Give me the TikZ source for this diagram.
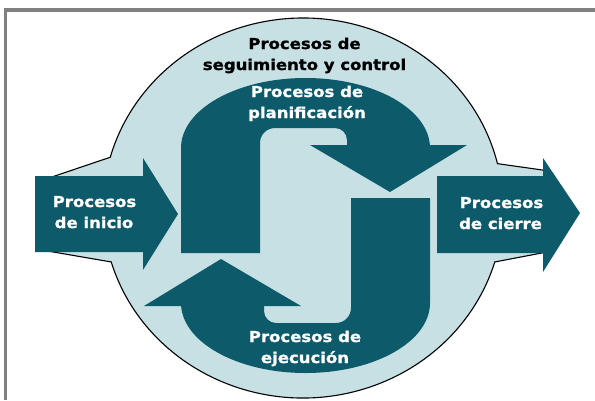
\documentclass[tikz,border=0pt]{standalone}
\usepackage{fontspec}
\newfontfamily\lblfont{DejaVu Sans Bold}[FakeStretch=1.1,FakeBold=1.2]
\definecolor{teal}{RGB}{13,90,106}
\definecolor{pale}{RGB}{199,224,228}
\definecolor{frame}{RGB}{128,128,128}
\begin{document}
\begin{tikzpicture}[x=1pt,y=1pt,
  lbl/.style={anchor=base,inner sep=0pt,font=\lblfont\fontsize{15}{18}\selectfont},
  wlbl/.style={lbl,text=white},
  blbl/.style={lbl,text=black},
  darkshape/.style={fill=teal,draw=none}]
\useasboundingbox (0,0) rectangle (595,-400);
\fill[white] (0,0) rectangle (595,-400);
% frame
\draw[frame,line width=3.4pt] (595,-10) -- (5.7,-10) -- (5.7,-400);
% monitoring blob
\draw[fill=pale,draw=black,line width=1.1pt]
  ([shift={(303,-208)}]13.5:200pt and 190pt)
  arc[start angle=13.5,end angle=164.5,x radius=200pt,y radius=190pt]
  -- (40,-181) -- (40,-249.7)
  -- ([shift={(303,-208)}]196.5:200pt and 190pt)
  arc[start angle=196.5,end angle=343.5,x radius=200pt,y radius=190pt]
  -- (548,-251.8) -- (548,-170.8) -- cycle;
% planning and execution arrows
\foreach \ang in {0,180}{
\begin{scope}[rotate around={\ang:(305.5,-225.5)}]
\fill[darkshape] (181,-253) -- (181,-148)
  arc[start angle=180,end angle=0,x radius=124.5pt,y radius=70pt]
  -- (430,-145) -- (467,-145) -- (390,-192) -- (310,-145) -- (347,-145)
  -- (347,-140) arc[start angle=0,end angle=90,radius=12pt]
  -- (275,-128) arc[start angle=90,end angle=180,radius=15pt]
  -- (260,-253) -- cycle;
\end{scope}}
% initiation and closing arrows
\fill[darkshape] (35,-176) -- (143,-176) -- (143,-158) -- (178,-214)
  -- (143,-270) -- (143,-252) -- (35,-252) -- cycle;
\fill[darkshape] (437,-176) -- (543,-176) -- (543,-158) -- (580,-213)
  -- (543,-272) -- (543,-253) -- (437,-253) -- cycle;
% labels
\node[blbl] (top1) at (304.5,-49) {Procesos de};
\node[blbl] (top2) at (304.5,-70) {seguimiento y control};
\node[wlbl] (plan1) at (307,-97) {Procesos de};
\node[wlbl] (plan2) at (307,-118) {planificación};
\node[wlbl] (exec1) at (305,-342) {Procesos de};
\node[wlbl] (exec2) at (305,-363) {ejecución};
\node[wlbl] (ini1) at (94.5,-207) {Procesos};
\node[wlbl] (ini2) at (94,-228) {de inicio};
\node[wlbl] (cie1) at (501.5,-208) {Procesos};
\node[wlbl] (cie2) at (500.5,-229) {de cierre};
\end{tikzpicture}
\end{document}
